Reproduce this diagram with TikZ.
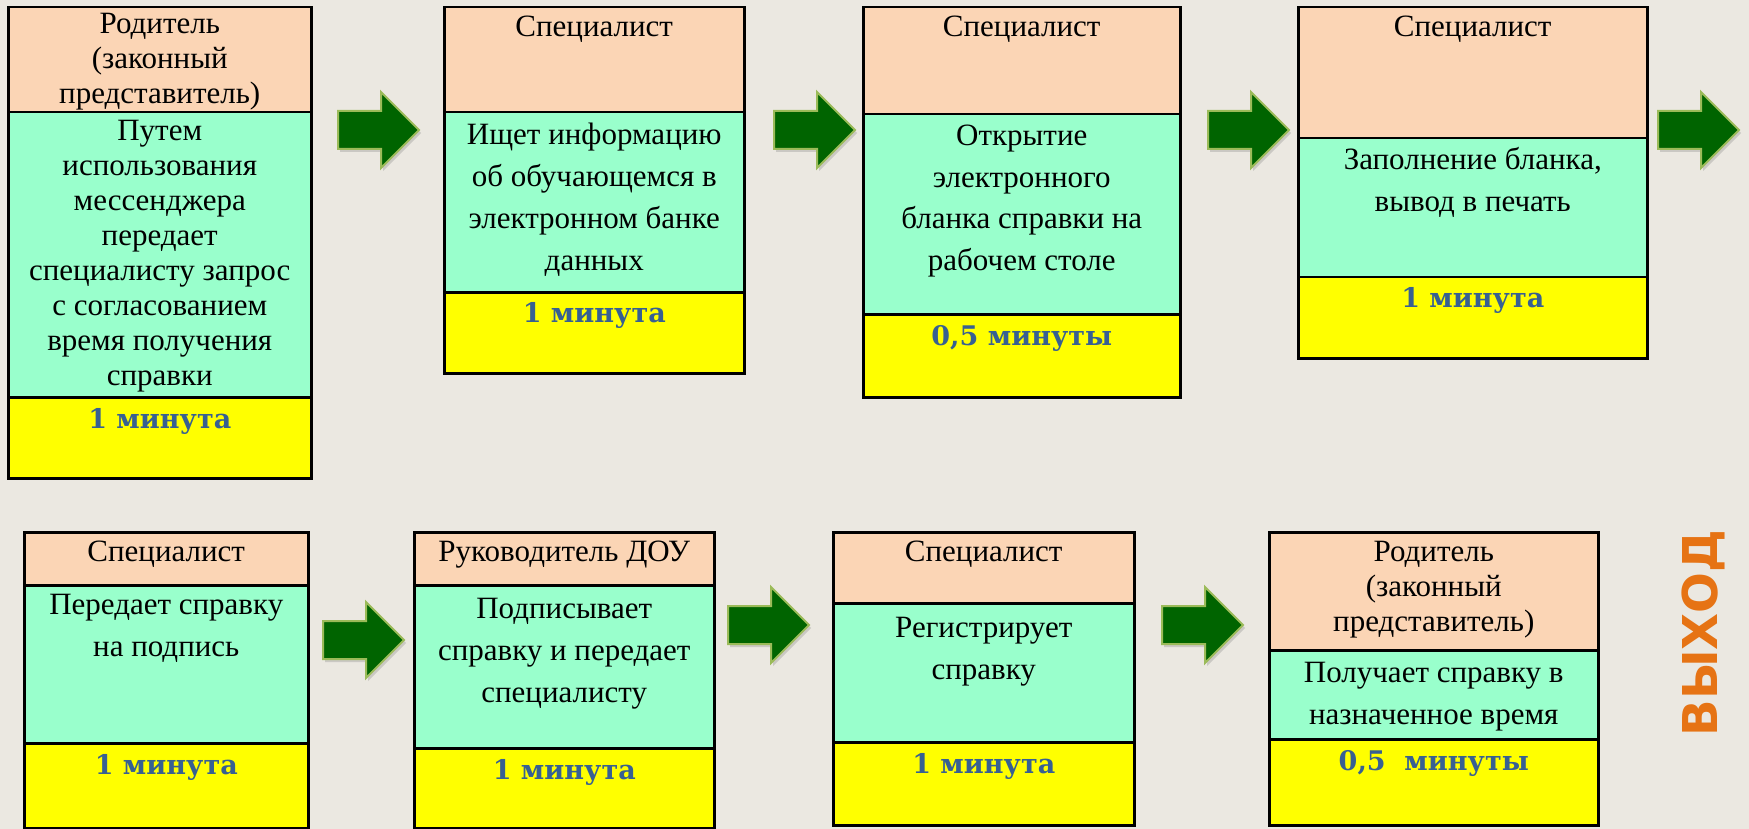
\documentclass[tikz,border=0pt]{standalone}
\usepackage{fontspec}
\setmainfont{Liberation Serif}
\newfontfamily\bodyfont{Liberation Serif}
\newfontfamily\minfont{DejaVu Serif}
\newfontfamily\exitfont{DejaVu Sans}
\usetikzlibrary{shapes.arrows,shadows}

\definecolor{bgc}{RGB}{235,232,225}
\definecolor{peach}{RGB}{251,213,181}
\definecolor{mint}{RGB}{153,255,204}
\definecolor{yel}{RGB}{255,255,0}
\definecolor{minblue}{RGB}{55,96,146}
\definecolor{arrfill}{RGB}{0,100,0}
\definecolor{arrline}{RGB}{155,187,89}
\definecolor{exitor}{RGB}{230,115,20}

\tikzset{
  sec/.style={draw=black, line width=2.5pt, inner sep=0pt, anchor=north west},
  headsec/.style={sec, fill=peach},
  bodysec/.style={sec, fill=mint},
  timesec/.style={sec, fill=yel},
  % anchor=base is the baseline of the LAST line of a multi-line node
  txt/.style={align=center, inner sep=0pt, anchor=base, font=\bodyfont\fontsize{31}{42}\selectfont},
  txttight/.style={txt, font=\bodyfont\fontsize{31}{35}\selectfont},
  mintxt/.style={txt, font=\minfont\bfseries\fontsize{27}{41}\selectfont, text=minblue},
  blockarrow/.style={single arrow, fill=arrfill, draw=arrline, line width=2pt,
    minimum height=81pt, text height=18pt, text depth=18pt, text width=0pt,
    single arrow head extend=19pt,
    inner sep=0pt, anchor=west,
    drop shadow={opacity=0.3, shadow xshift=2pt, shadow yshift=-3pt}},
  exittxt/.style={font=\exitfont\bfseries\fontsize{48}{48}\selectfont, text=exitor, rotate=90, anchor=base, inner sep=0pt},
}

\begin{document}
\begin{tikzpicture}[x=1pt,y=-1pt]
\fill[bgc] (0,0) rectangle (1749,829);
\useasboundingbox (0,0) rectangle (1749,829);

% ---------- top row ----------
% box 1
\node[headsec, minimum width=303pt, minimum height=105pt] (b1h) at (7,6) {};
\node[bodysec, minimum width=303pt, minimum height=285pt] (b1b) at (7,111) {};
\node[timesec, minimum width=303pt, minimum height=81pt] (b1t) at (7,396) {};
\node[txttight] (t1h) at ([yshift=-98pt]b1h.north) {Родитель\\(законный\\представитель)};
\node[txttight] (t1b) at ([yshift=-274pt]b1b.north) {Путем\\использования\\мессенджера\\передает\\специалисту запрос\\с согласованием\\время получения\\справки};
\node[mintxt] (t1t) at ([yshift=-32pt]b1t.north) {1 минута};

% box 2
\node[headsec, minimum width=300pt, minimum height=105pt] (b2h) at (443,6) {};
\node[bodysec, minimum width=300pt, minimum height=180pt] (b2b) at (443,111) {};
\node[timesec, minimum width=300pt, minimum height=81pt] (b2t) at (443,291) {};
\node[txt] (t2h) at ([yshift=-31pt]b2h.north) {Специалист};
\node[txt] (t2b) at ([yshift=-159pt]b2b.north) {Ищет информацию\\об обучающемся в\\электронном банке\\данных};
\node[mintxt] (t2t) at ([yshift=-31pt]b2t.north) {1 минута};

% box 3
\node[headsec, minimum width=317pt, minimum height=107pt] (b3h) at (862,6) {};
\node[bodysec, minimum width=317pt, minimum height=200pt] (b3b) at (862,113) {};
\node[timesec, minimum width=317pt, minimum height=83pt] (b3t) at (862,313) {};
\node[txt] (t3h) at ([yshift=-31pt]b3h.north) {Специалист};
\node[txt] (t3b) at ([yshift=-158pt]b3b.north) {Открытие\\электронного\\бланка справки на\\рабочем столе};
\node[mintxt] (t3t) at ([yshift=-32pt]b3t.north) {0,5 минуты};

% box 4
\node[headsec, minimum width=349pt, minimum height=131pt] (b4h) at (1297,6) {};
\node[bodysec, minimum width=349pt, minimum height=139pt] (b4b) at (1297,137) {};
\node[timesec, minimum width=349pt, minimum height=81pt] (b4t) at (1297,276) {};
\node[txt] (t4h) at ([yshift=-31pt]b4h.north) {Специалист};
\node[txt] (t4b) at ([yshift=-75pt]b4b.north) {Заполнение бланка,\\вывод в печать};
\node[mintxt] (t4t) at ([yshift=-31pt]b4t.north) {1 минута};

% top arrows
\node[blockarrow] (a1) at (337,130) {};
\node[blockarrow] (a2) at (773,130) {};
\node[blockarrow] (a3) at (1207,130) {};
\node[blockarrow] (a4) at (1657,130) {};

% ---------- bottom row ----------
% box 5
\node[headsec, minimum width=284pt, minimum height=53pt] (b5h) at (23,531) {};
\node[bodysec, minimum width=284pt, minimum height=158pt] (b5b) at (23,584) {};
\node[timesec, minimum width=284pt, minimum height=85pt] (b5t) at (23,742) {};
\node[txt] (t5h) at ([yshift=-30.5pt]b5h.north) {Специалист};
\node[txt] (t5b) at ([yshift=-72pt]b5b.north) {Передает справку\\на подпись};
\node[mintxt] (t5t) at ([yshift=-32pt]b5t.north) {1 минута};

% box 6
\node[headsec, minimum width=300pt, minimum height=53pt] (b6h) at (413,531) {};
\node[bodysec, minimum width=300pt, minimum height=163pt] (b6b) at (413,584) {};
\node[timesec, minimum width=300pt, minimum height=80pt] (b6t) at (413,747) {};
\node[txt] (t6h) at ([yshift=-30.5pt]b6h.north) {Руководитель ДОУ};
\node[txt] (t6b) at ([yshift=-118pt]b6b.north) {Подписывает\\справку и передает\\специалисту};
\node[mintxt] (t6t) at ([yshift=-32pt]b6t.north) {1 минута};

% box 7
\node[headsec, minimum width=301pt, minimum height=71pt] (b7h) at (832,531) {};
\node[bodysec, minimum width=301pt, minimum height=139pt] (b7b) at (832,602) {};
\node[timesec, minimum width=301pt, minimum height=83pt] (b7t) at (832,741) {};
\node[txt] (t7h) at ([yshift=-30.5pt]b7h.north) {Специалист};
\node[txt] (t7b) at ([yshift=-77pt]b7b.north) {Регистрирует\\справку};
\node[mintxt] (t7t) at ([yshift=-32pt]b7t.north) {1 минута};

% box 8
\node[headsec, minimum width=329pt, minimum height=118pt] (b8h) at (1268,531) {};
\node[bodysec, minimum width=329pt, minimum height=89pt] (b8b) at (1268,649) {};
\node[timesec, minimum width=329pt, minimum height=86pt] (b8t) at (1268,738) {};
\node[txttight] (t8h) at ([yshift=-100pt]b8h.north) {Родитель\\(законный\\представитель)};
\node[txt] (t8b) at ([yshift=-75pt]b8b.north) {Получает справку в\\назначенное время};
\node[mintxt] (t8t) at ([yshift=-32pt]b8t.north) {0,5\ \ минуты};

% bottom arrows
\node[blockarrow] (a5) at (322,640) {};
\node[blockarrow] (a6) at (727,625) {};
\node[blockarrow] (a7) at (1161,625) {};

% exit label
\node[exittxt] (exit) at (1717,633) {ВЫХОД};
\end{tikzpicture}
\end{document}
